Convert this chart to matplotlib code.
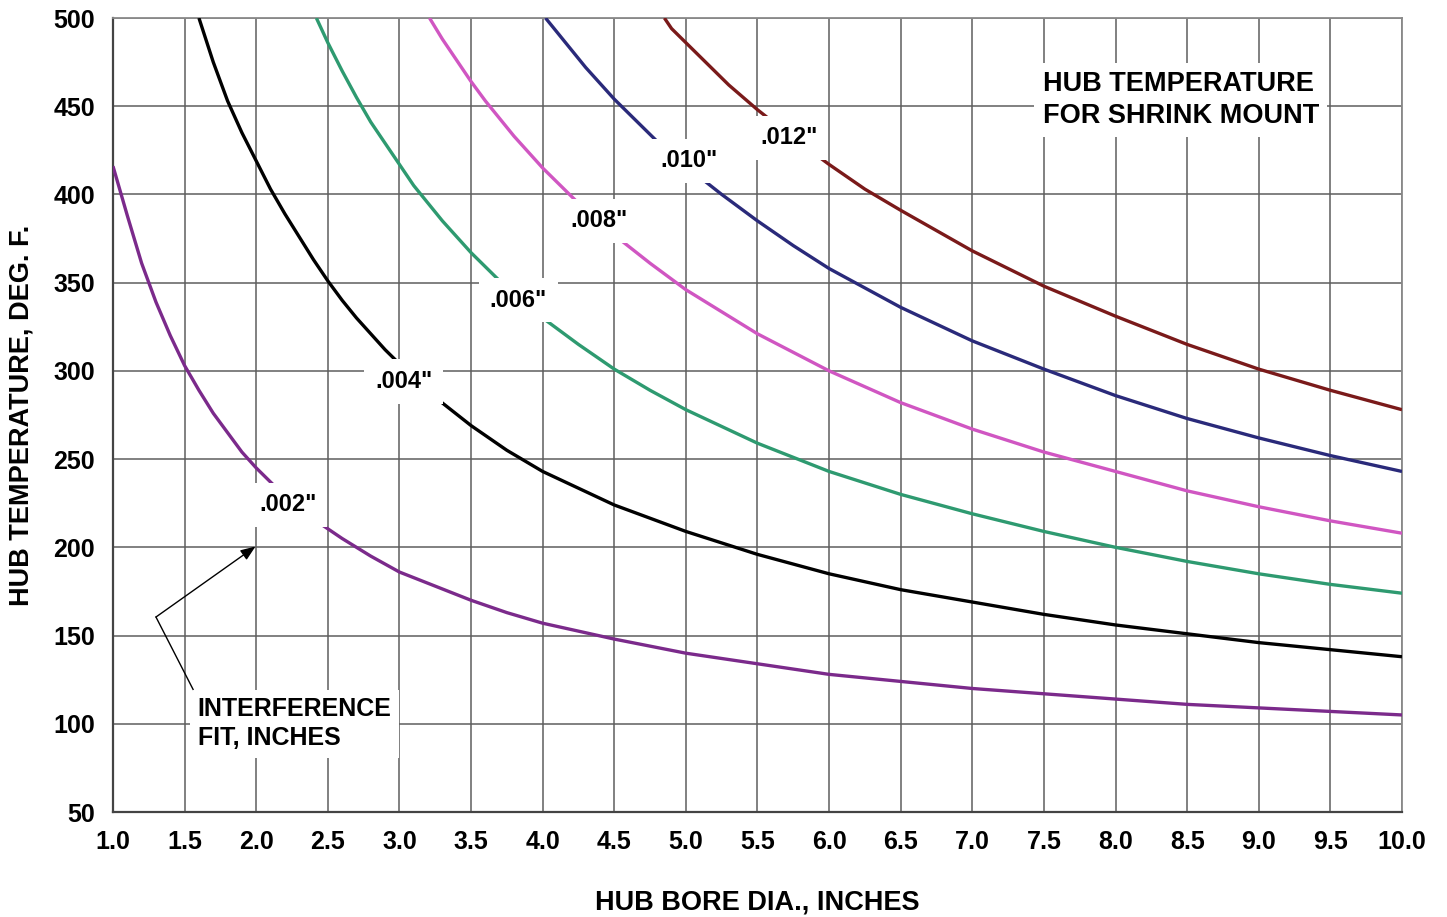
import matplotlib
matplotlib.use("Agg")
import matplotlib.pyplot as plt

plt.rcParams['font.family'] = ['Liberation Sans', 'DejaVu Sans']
plt.rcParams['font.weight'] = 'bold'

# ---- data (hub bore diameter in inches, temperature deg F) ----
bore_002 = [1.0, 1.1, 1.2, 1.3, 1.4, 1.5, 1.6, 1.7, 1.8, 1.9, 2.0, 2.2, 2.4, 2.6, 2.8, 3.0, 3.25, 3.5, 3.75,
            4.0, 4.5, 5.0, 5.5, 6.0, 6.5, 7.0, 7.5, 8.0, 8.5, 9.0, 9.5, 10.0]
temp_002 = [416, 388, 361, 339, 320, 303, 289, 276, 265, 254, 245, 229, 216, 205, 195, 186, 178, 170, 163,
            157, 148, 140, 134, 128, 124, 120, 117, 114, 111, 109, 107, 105]

bore_004 = [1.6, 1.7, 1.8, 1.9, 2.0, 2.1, 2.2, 2.3, 2.4, 2.5, 2.6, 2.7, 2.8, 2.9, 3.0, 3.25, 3.5, 3.75,
            4.0, 4.5, 5.0, 5.5, 6.0, 6.5, 7.0, 7.5, 8.0, 8.5, 9.0, 9.5, 10.0]
temp_004 = [500, 475, 453, 435, 419, 403, 389, 376, 363, 351, 340, 330, 321, 312, 304, 285, 269, 255,
            243, 224, 209, 196, 185, 176, 169, 162, 156, 151, 146, 142, 138]

bore_006 = [2.42, 2.5, 2.6, 2.7, 2.8, 2.9, 3.0, 3.1, 3.2, 3.3, 3.4, 3.5, 3.75, 4.0, 4.25, 4.5, 4.75,
            5.0, 5.5, 6.0, 6.5, 7.0, 7.5, 8.0, 8.5, 9.0, 9.5, 10.0]
temp_006 = [500, 486, 470, 455, 441, 429, 417, 405, 395, 385, 376, 367, 347, 330, 315, 301, 289,
            278, 259, 243, 230, 219, 209, 200, 192, 185, 179, 174]

bore_008 = [3.21, 3.3, 3.4, 3.5, 3.6, 3.7, 3.8, 3.9, 4.0, 4.25, 4.5, 4.75, 5.0, 5.5, 6.0, 6.5, 7.0,
            7.5, 8.0, 8.5, 9.0, 9.5, 10.0]
temp_008 = [500, 488, 476, 464, 453, 443, 433, 424, 415, 395, 377, 361, 346, 321, 300, 282, 267,
            254, 243, 232, 223, 215, 208]

bore_010 = [4.02, 4.1, 4.2, 4.3, 4.4, 4.5, 4.6, 4.7, 4.8, 4.9, 5.0, 5.25, 5.5, 5.75, 6.0, 6.5, 7.0, 7.5,
            8.0, 8.5, 9.0, 9.5, 10.0]
temp_010 = [500, 492, 482, 472, 463, 454, 446, 438, 430, 423, 416, 400, 385, 371, 358, 336, 317, 301,
            286, 273, 262, 252, 243]

bore_012 = [4.85, 4.9, 5.0, 5.1, 5.2, 5.3, 5.4, 5.5, 5.75, 6.0, 6.25, 6.5, 7.0, 7.5, 8.0, 8.5, 9.0, 9.5, 10.0]
temp_012 = [500, 494, 486, 478, 470, 462, 455, 448, 432, 417, 403, 391, 368, 348, 331, 315, 301, 289, 278]

series_labels = ['.002"', '.004"', '.006"', '.008"', '.010"', '.012"']
series_colors = ['#7B2A8B', '#000000', '#2E9A70', '#D056C2', '#2A2A7A', '#7A1A1A']
# label anchor positions (bore, temp)
label_bore = [2.22, 3.03, 3.83, 4.39, 5.02, 5.72]
label_temp = [224, 294, 340, 385, 419, 432]

x_ticks = [1.0 + 0.5 * i for i in range(19)]
y_ticks = [50, 100, 150, 200, 250, 300, 350, 400, 450, 500]

# ---- figure ----
fig = plt.figure(figsize=(14.47, 9.17), dpi=100)
ax = fig.add_axes([113 / 1447, 1 - 812 / 917, (1402 - 113) / 1447, (812 - 18) / 917])
ax.set_xlim(1.0, 10.0)
ax.set_ylim(50, 500)

grid_color = '#5e5e5e'
ax.set_xticks(x_ticks)
ax.set_yticks(y_ticks)
ax.set_xticklabels([f"{v:.1f}" for v in x_ticks])
ax.set_yticklabels([str(v) for v in y_ticks])
ax.tick_params(length=0, labelsize=18, pad=13)
for lab in ax.get_xticklabels() + ax.get_yticklabels():
    lab.set_fontweight('bold')
ax.grid(True, color=grid_color, linewidth=1.1, zorder=1)
ax.set_axisbelow(True)
for side in ['top', 'right']:
    ax.spines[side].set_color('#8a8a8a')
    ax.spines[side].set_linewidth(1.3)
for side in ['left', 'bottom']:
    ax.spines[side].set_color('#444444')
    ax.spines[side].set_linewidth(1.6)

all_bore = [bore_002, bore_004, bore_006, bore_008, bore_010, bore_012]
all_temp = [temp_002, temp_004, temp_006, temp_008, temp_010, temp_012]
for b, t, c in zip(all_bore, all_temp, series_colors):
    ax.plot(b, t, color=c, linewidth=2.4, zorder=3, solid_capstyle='butt', solid_joinstyle='round')

for lbl, bx, ty in zip(series_labels, label_bore, label_temp):
    ax.text(bx, ty, lbl, fontsize=17, fontweight='bold', ha='center', va='center', zorder=5,
            bbox=dict(boxstyle='square,pad=0.45', facecolor='white', edgecolor='none'))

# title box
ax.text(7.49, 453.5, "HUB TEMPERATURE\nFOR SHRINK MOUNT", fontsize=19.5, fontweight='bold',
        ha='left', va='center', linespacing=1.3, zorder=5,
        bbox=dict(boxstyle='square,pad=0.3', facecolor='white', edgecolor='none'))

# interference fit label
ax.text(1.59, 100, "INTERFERENCE\nFIT, INCHES", fontsize=18, fontweight='bold',
        ha='left', va='center', linespacing=1.25, zorder=5,
        bbox=dict(boxstyle='square,pad=0.3', facecolor='white', edgecolor='none'))

# leader line with arrow
ax.plot([1.559, 1.30], [119.5, 160.5], color='black', linewidth=1.0, zorder=6)
ax.annotate('', xy=(1.995, 200.5), xytext=(1.30, 160.5), zorder=6,
            arrowprops=dict(arrowstyle='-|>,head_length=0.9,head_width=0.35', color='black',
                            linewidth=1.0, shrinkA=0, shrinkB=0))

fig.text(757 / 1447, 1 - 903 / 917, "HUB BORE DIA., INCHES", fontsize=19.5, fontweight='bold',
         ha='center', va='center')
fig.text(22 / 1447, 1 - 415 / 917, "HUB TEMPERATURE, DEG. F.", fontsize=19.5, fontweight='bold',
         ha='center', va='center', rotation=90)

fig.savefig("out.png", dpi=100, facecolor='white')
